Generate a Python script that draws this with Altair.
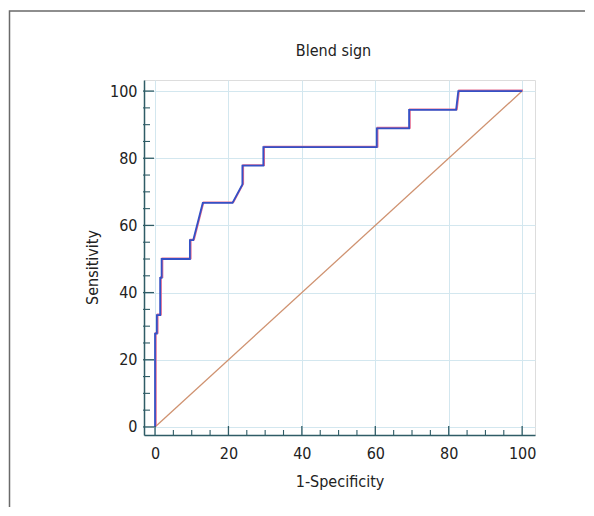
import altair as alt
import pandas as pd

# ROC curve vertices (1-Specificity, Sensitivity)
roc_x = [0, 0, 0.5, 0.5, 1.4, 1.4, 1.8, 1.8, 9.5, 9.5, 10.4, 13.0, 21.1, 23.8, 23.8, 29.5, 29.5, 60.4, 60.4, 69.2, 69.2, 82.0, 82.6, 100]
roc_y = [0, 27.8, 27.8, 33.3, 33.3, 44.4, 44.4, 50.0, 50.0, 55.6, 55.6, 66.7, 66.7, 72.2, 77.8, 77.8, 83.3, 83.3, 88.9, 88.9, 94.4, 94.4, 100, 100]
diag_x = [0, 100]
diag_y = [0, 100]
major_ticks = [0, 20, 40, 60, 80, 100]
minor_ticks = [5, 10, 15, 25, 30, 35, 45, 50, 55, 65, 70, 75, 85, 90, 95]
chart_title = ["Blend sign"]

W, H = 391, 355
FONT = "DejaVu Sans Condensed, Liberation Sans, sans-serif"
FS = 16
AX = "#2f5c66"

roc = pd.DataFrame({"x": roc_x, "y": roc_y, "i": range(len(roc_x))})
diag = pd.DataFrame({"x": diag_x, "y": diag_y})
maj = pd.DataFrame({"t": major_ticks})
mnr = pd.DataFrame({"t": minor_ticks})
ttl = pd.DataFrame({"title": chart_title})

xs = alt.Scale(domain=[-3, 103.5], nice=False, zero=False)
ys = alt.Scale(domain=[-2.4, 103.3], nice=False, zero=False)

xaxis = alt.Axis(values=major_ticks, grid=True, gridColor="#d3e7ef", gridWidth=1,
                 ticks=False, domainColor=AX, domainWidth=1.5, labelFont=FONT,
                 labelFontSize=FS, labelColor="#222", labelPadding=10,
                 title="1-Specificity", titleFont=FONT, titleFontSize=FS,
                 titleFontWeight="normal", titleColor="#222", titlePadding=12)
yaxis = alt.Axis(values=major_ticks, grid=True, gridColor="#d3e7ef", gridWidth=1,
                 ticks=False, domainColor=AX, domainWidth=1.5, labelFont=FONT,
                 labelFontSize=FS, labelColor="#222", labelPadding=7,
                 title="Sensitivity", titleFont=FONT, titleFontSize=FS,
                 titleFontWeight="normal", titleColor="#222",
                 titleX=-52, titleY=187, titleBaseline="middle")

base_diag = alt.Chart(diag).mark_line(color="#cf9270", strokeWidth=1.3).encode(
    x=alt.X("x:Q", scale=xs, axis=xaxis),
    y=alt.Y("y:Q", scale=ys, axis=yaxis),
)

roc_shadow = alt.Chart(roc).mark_line(color="#e46a8e", strokeWidth=1.8, xOffset=0.8, yOffset=-0.6).encode(
    x=alt.X("x:Q", scale=xs), y=alt.Y("y:Q", scale=ys), order="i:O")
roc_line = alt.Chart(roc).mark_line(color="#3451c6", strokeWidth=1.8).encode(
    x=alt.X("x:Q", scale=xs), y=alt.Y("y:Q", scale=ys), order="i:O")

xmaj = alt.Chart(maj).mark_rule(color=AX, strokeWidth=1.3).encode(
    x=alt.X("t:Q", scale=xs), y=alt.value(H), y2=alt.value(H - 9))
xmin = alt.Chart(mnr).mark_rule(color=AX, strokeWidth=1.1).encode(
    x=alt.X("t:Q", scale=xs), y=alt.value(H), y2=alt.value(H - 5))
ymaj = alt.Chart(maj).mark_rule(color=AX, strokeWidth=1.3).encode(
    y=alt.Y("t:Q", scale=ys), x=alt.value(-1), x2=alt.value(10))
ymin = alt.Chart(mnr).mark_rule(color=AX, strokeWidth=1.1).encode(
    y=alt.Y("t:Q", scale=ys), x=alt.value(-1), x2=alt.value(6))

frame = alt.Chart(ttl).mark_rect(fill="transparent", stroke="#6a6a6a", strokeWidth=1.5).encode(
    x=alt.value(-134.5), x2=alt.value(W + 200), y=alt.value(-69), y2=alt.value(H + 200))

title_txt = alt.Chart(ttl).mark_text(font=FONT, fontSize=FS, color="#222",
                                     align="center", baseline="alphabetic").encode(
    text="title:N", x=alt.value(W / 2 - 6), y=alt.value(-24))

chart = alt.layer(
    base_diag, roc_shadow, roc_line, xmaj, xmin, ymaj, ymin, frame, title_txt
).properties(
    width=W, height=H,
    autosize=alt.AutoSizeParams(type="none"),
    padding={"left": 136, "top": 72, "right": 50, "bottom": 72},
).configure_view(stroke=None).configure(background="white")

chart.save("out.html", embed_options={"renderer": "svg", "actions": False})
